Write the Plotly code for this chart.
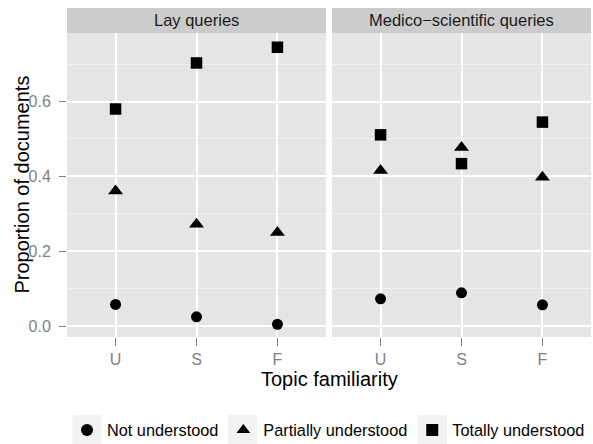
import plotly.graph_objects as go

familiarity = ["U", "S", "F"]
panels = ["Lay queries", "Medico\u2212scientific queries"]
series_names = ["Not understood", "Partially understood", "Totally understood"]
lay_not = [0.058, 0.025, 0.005]
lay_partial = [0.361, 0.272, 0.250]
lay_total = [0.580, 0.703, 0.745]
med_not = [0.073, 0.089, 0.057]
med_partial = [0.416, 0.477, 0.398]
med_total = [0.511, 0.434, 0.545]
y_ticks = [0.0, 0.2, 0.4, 0.6]

FONT = "Liberation Sans, Arial, Helvetica, sans-serif"
symbols = ["circle", "triangle-up", "square"]
sizes = [11, 13, 11.5]

fig = go.Figure()
panel_data = [(lay_not, lay_partial, lay_total), (med_not, med_partial, med_total)]
for p, (vals, xa, ya) in enumerate(zip(panel_data, ["x", "x2"], ["y", "y2"])):
    for s, name in enumerate(series_names):
        fig.add_trace(go.Scatter(
            x=familiarity, y=vals[s], mode="markers", name=name,
            xaxis=xa, yaxis=ya, showlegend=(p == 0), legendgroup=name,
            marker=dict(symbol=symbols[s], size=sizes[s], color="black",
                        line=dict(width=0)),
        ))

H_PLOT = 304
W_PLOT = 524
axis_common = dict(
    type="category", categoryorder="array", categoryarray=familiarity,
    range=[-0.6, 2.6], showgrid=True, gridcolor="white", gridwidth=2,
    ticks="outside", ticklen=8, tickwidth=1, tickcolor="#7f7f7f",
    tickfont=dict(size=16, color="#7f7f7f", family=FONT), showline=False,
    zeroline=False, ticklabelstandoff=0,
)
yaxis_common = dict(
    range=[-0.029, 0.783], tickvals=y_ticks, tickformat=".1f",
    showgrid=True, gridcolor="white", gridwidth=2, zeroline=False,
    minor=dict(showgrid=True, gridcolor="#f2f2f2", gridwidth=1, dtick=0.1, tick0=0),
    showline=False,
)

fig.update_layout(
    width=593, height=444,
    margin=dict(l=67, r=2, t=33, b=107, autoexpand=False),
    paper_bgcolor="white", plot_bgcolor="#e5e5e5",
    font=dict(family=FONT, color="black"),
    xaxis=dict(domain=[0, 259 / W_PLOT], anchor="y", **axis_common),
    xaxis2=dict(domain=[265 / W_PLOT, 1], anchor="y2", **axis_common),
    yaxis=dict(anchor="x", ticks="outside", ticklen=7, tickwidth=1, tickcolor="#7f7f7f",
               tickfont=dict(size=16, color="#7f7f7f", family=FONT),
               ticklabelstandoff=5, **yaxis_common),
    yaxis2=dict(anchor="x2", matches="y", showticklabels=False, ticks="", **yaxis_common),
    legend=dict(orientation="h", x=0.0, xanchor="left", y=-0.307, yanchor="middle",
                font=dict(size=16.3, family=FONT, color="black"),
                bgcolor="rgba(0,0,0,0)", itemsizing="constant"),
)

# grey legend key backgrounds (ggplot style)
for cx in [87.0, 242.5, 432.5]:
    fig.add_shape(type="rect", xref="paper", yref="paper",
                  x0=(cx - 14.5 - 67) / W_PLOT, x1=(cx + 14.5 - 67) / W_PLOT,
                  y0=-(444 - 337) / H_PLOT, y1=-(415 - 337) / H_PLOT,
                  fillcolor="#f2f2f2", line=dict(width=0), layer="below")

for xref, title in zip(["x domain", "x2 domain"], panels):
    fig.add_shape(type="rect", xref=xref, yref="paper", x0=0, x1=1,
                  y0=1, y1=1 + 25 / H_PLOT, fillcolor="#cccccc", line=dict(width=0),
                  layer="below")
    fig.add_annotation(xref=xref, yref="paper", x=0.5, y=1 + 12.5 / H_PLOT,
                       text=title, showarrow=False, xanchor="center", yanchor="middle",
                       font=dict(size=16.5, color="#1a1a1a", family=FONT))

fig.add_annotation(xref="paper", yref="paper", x=0.5, y=-(379 - 337) / H_PLOT,
                   text="Topic familiarity", showarrow=False, xanchor="center",
                   yanchor="middle", font=dict(size=20, family=FONT, color="black"))
fig.add_annotation(xref="paper", yref="paper", x=(21.5 - 67) / W_PLOT, y=0.5,
                   text="Proportion of documents", showarrow=False, textangle=-90,
                   xanchor="center", yanchor="middle",
                   font=dict(size=20, family=FONT, color="black"))

fig.write_html("out.html")
